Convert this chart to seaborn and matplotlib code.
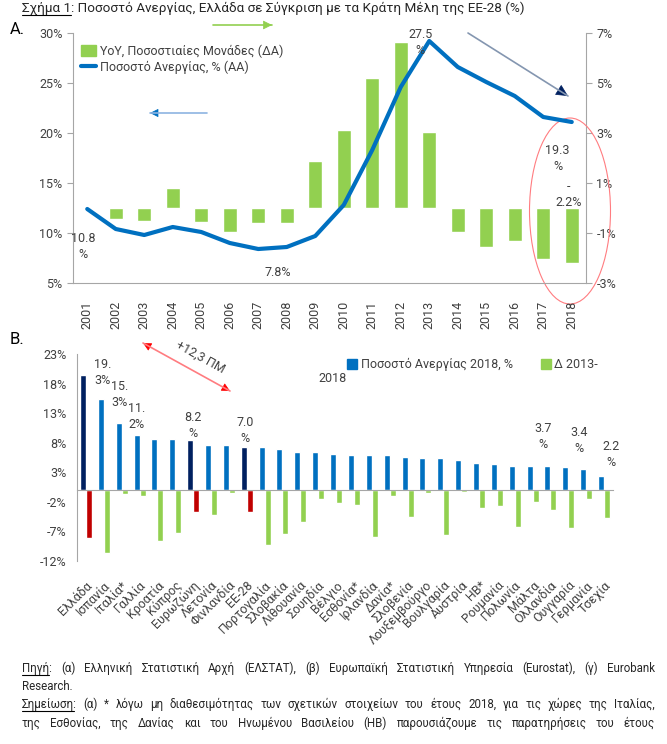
import numpy as np
import pandas as pd
import matplotlib
matplotlib.use("Agg")
import matplotlib.pyplot as plt
import seaborn as sns
from matplotlib.patches import Ellipse, FancyArrowPatch, Patch
from matplotlib.lines import Line2D

# ---- DATA: top chart (Greece)
years = [str(y) for y in range(2001, 2019)]
unemp_gr = [12.4, 10.4, 9.8, 10.6, 10.1, 9.0, 8.4, 8.6, 9.7, 12.8, 18.3,
            24.6, 29.2, 26.6, 25.1, 23.7, 21.6, 21.1]
yoy_years = years[1:]
yoy_pp = [-0.42, -0.52, 0.81, -0.57, -0.97, -0.59, -0.61, 1.88, 3.12, 5.19,
          6.63, 3.05, -0.95, -1.57, -1.32, -2.04, -2.19]

# ---- DATA: bottom chart (EU-28)
countries = ['Ελλάδα', 'Ισπανία', 'Ιταλία*', 'Γαλλία', 'Κροατία', 'Κύπρος',
             'Ευρωζώνη', 'Λετονία', 'Φινλανδία', 'ΕΕ-28', 'Πορτογαλία',
             'Σλοβακία', 'Λιθουανία', 'Σουηδία', 'Βέλγιο', 'Εσθονία*',
             'Ιρλανδία', 'Δανία*', 'Σλοβενία', 'Λουξεμβούργο', 'Βουλγαρία',
             'Αυστρία', 'ΗΒ*', 'Ρουμανία', 'Πολωνία', 'Μάλτα', 'Ολλανδία',
             'Ουγγαρία', 'Γερμανία', 'Τσεχία']
rate_2018 = [19.5, 15.5, 11.4, 9.3, 8.7, 8.7, 8.5, 7.6, 7.6, 7.2, 7.2, 6.9,
             6.5, 6.5, 6.1, 6.0, 6.0, 5.9, 5.6, 5.5, 5.5, 5.1, 4.6, 4.4, 4.1,
             4.0, 4.1, 3.9, 3.6, 2.4]
delta_13_18 = [-8.1, -10.7, -0.7, -1.0, -8.7, -7.3, -3.7, -4.3, -0.6, -3.8,
               -9.3, -7.4, -5.4, -1.6, -2.3, -2.6, -7.9, -1.1, -4.6, -0.5,
               -7.7, -0.3, -3.0, -2.7, -6.3, -2.1, -3.4, -6.4, -1.6, -4.7]
highlight = ['Ελλάδα', 'Ευρωζώνη', 'ΕΕ-28']

W, H = 667, 744
GREEN = '#92D050'
BLUE = '#0070C0'
NAVY = '#002060'
RED = '#C00000'
AXC = '#A6A6A6'
TXT = '#404040'

sns.set_style('white')
plt.rcParams['font.family'] = ['Roboto', 'DejaVu Sans']

fig = plt.figure(figsize=(W / 100, H / 100), dpi=100)


def px(x, y):
    # reference pixel (top-left origin) -> figure fraction
    return (x / W, 1 - y / H)


def box(x0, y0, x1, y1):
    return [x0 / W, 1 - y1 / H, (x1 - x0) / W, (y1 - y0) / H]


# ================= A. top chart =================
ax1 = fig.add_axes(box(73, 33, 586, 283))
ax2 = ax1.twinx()

df_yoy = pd.DataFrame({'year': yoy_years, 'pp': yoy_pp})
sns.barplot(data=df_yoy, x='year', y='pp', order=years, color=GREEN,
            width=0.5, saturation=1, ax=ax2)
sns.lineplot(x=np.arange(len(years)), y=unemp_gr, color=BLUE, lw=3, ax=ax1)

ax1.set_zorder(ax2.get_zorder() + 1)
ax1.patch.set_visible(False)

ax1.set_xlim(-0.5, len(years) - 0.5)
ax1.set_ylim(5, 30)
ax1.set_yticks(range(5, 31, 5))
ax1.set_yticklabels([f'{v}%' for v in range(5, 31, 5)])
ax2.set_ylim(-3, 7)
ax2.set_yticks(range(-3, 8, 2))
ax2.set_yticklabels([f'{v}%' for v in range(-3, 8, 2)])

ax1.set_xticks(range(len(years)))
ax1.set_xticklabels(years, rotation=90)
ax1.set_xticks(np.arange(-0.5, len(years), 1), minor=True)
ax1.tick_params(axis='x', which='major', length=0, pad=13, labelsize=9,
                labelcolor=TXT)
ax1.tick_params(axis='x', which='minor', length=6, color=AXC, direction='out')
ax1.tick_params(axis='y', length=4, color=AXC, labelsize=9, labelcolor=TXT,
                direction='out')
ax2.tick_params(axis='y', length=4, color=AXC, labelsize=9, labelcolor=TXT,
                direction='out')
for a in (ax1, ax2):
    a.set_xlabel('')
    a.set_ylabel('')
    for s in a.spines.values():
        s.set_visible(False)
        s.set_color(AXC)
ax1.spines['left'].set_visible(True)
ax1.spines['bottom'].set_visible(True)
ax2.spines['right'].set_visible(True)

leg1 = ax1.legend(
    handles=[Patch(color=GREEN), Line2D([], [], color=BLUE, lw=3)],
    labels=['ΥοΥ, Ποσοστιαίες Μονάδες (ΔΑ)', 'Ποσοστό Ανεργίας, % (ΑΑ)'],
    loc='upper left', bbox_to_anchor=(0.0, 0.985), frameon=False,
    fontsize=9, handlelength=1.2, handleheight=0.9, handletextpad=0.4,
    labelspacing=0.25, borderaxespad=0.2)
for t in leg1.get_texts():
    t.set_color(TXT)

lab = dict(fontsize=9, color=TXT, ha='center', va='center', linespacing=1.3)
ax1.text(-0.15, 8.7, '10.8\n%', **lab)
ax1.text(6.67, 6.0, '7.8%', **lab)
ax1.text(11.68, 29.0, '27.5\n%', **lab)
ax1.text(16.5, 17.5, '19.3\n%', **lab)
ax1.text(16.9, 13.8, '-\n2.2%', **lab)


def arrow(p0, p1, line_c, head_c, ms=12, lw=1.2, both=False):
    fig.add_artist(Line2D([p0[0] / W, p1[0] / W], [1 - p0[1] / H, 1 - p1[1] / H],
                          color=line_c, lw=lw, transform=fig.transFigure))
    ends = [(p0, p1)] + ([(p1, p0)] if both else [])
    for a, b in ends:
        d = np.array(b, float) - np.array(a, float)
        d = d / np.hypot(*d)
        tail = np.array(b) - d * 6
        fig.add_artist(FancyArrowPatch(px(*tail), px(*b), transform=fig.transFigure,
                                       arrowstyle='-|>', mutation_scale=ms,
                                       color=head_c, lw=0.5,
                                       shrinkA=0, shrinkB=0))


arrow((213, 25), (272, 25), GREEN, GREEN, ms=14)
arrow((207, 113), (150, 113), '#8DB4E2', BLUE, ms=13)
arrow((468, 33), (568, 96), '#8496B0', NAVY, ms=19)
fig.add_artist(Ellipse(px(570, 211), 81 / W, 186 / H, transform=fig.transFigure,
                       fill=False, edgecolor='#FF7C80', lw=0.8))

# ================= B. bottom chart =================
ax3 = fig.add_axes(box(77, 354.3, 613, 560.7))
df_b = pd.DataFrame({
    'country': countries * 2,
    'series': ['rate'] * len(countries) + ['delta'] * len(countries),
    'value': rate_2018 + delta_13_18,
})
sns.barplot(data=df_b, x='country', y='value', hue='series',
            hue_order=['rate', 'delta'], palette=[BLUE, GREEN], width=0.67,
            saturation=1, legend=False, ax=ax3)
for i, c in enumerate(countries):
    if c in highlight:
        ax3.containers[0][i].set_facecolor(NAVY)
        ax3.containers[1][i].set_facecolor(RED)

ax3.set_xlim(-0.5, len(countries) - 0.5)
ax3.set_ylim(-12, 23)
ax3.set_yticks(range(-12, 24, 5))
ax3.set_yticklabels([f'{v}%' for v in range(-12, 24, 5)])
ax3.set_xlabel('')
ax3.set_ylabel('')
for s in ax3.spines.values():
    s.set_visible(False)
    s.set_color(AXC)
ax3.spines['left'].set_visible(True)
ax3.spines['bottom'].set_visible(True)
ax3.spines['bottom'].set_position(('data', 0))
ax3.set_xticks(range(len(countries)))
ax3.set_xticklabels(countries, rotation=45, ha='right', va='top',
                    rotation_mode='anchor')
ax3.set_xticks(np.arange(-0.5, len(countries), 1), minor=True)
ax3.tick_params(axis='x', which='major', length=0, pad=64, labelsize=9,
                labelcolor=TXT)
ax3.tick_params(axis='x', which='minor', length=4, color=AXC, direction='out')
ax3.tick_params(axis='y', length=4, color=AXC, labelsize=9, labelcolor=TXT,
                direction='out')

leg2 = fig.legend(handles=[Patch(color=BLUE), Patch(color=GREEN)],
                  labels=['Ποσοστό Ανεργίας 2018, %', 'Δ 2013-'],
                  ncol=2, loc='upper left', bbox_to_anchor=px(336, 347),
                  frameon=False, fontsize=9, handlelength=0.8,
                  handleheight=0.8, handletextpad=0.3, columnspacing=2.2)
for t in leg2.get_texts():
    t.set_color(TXT)
fig.text(*px(333, 379), '2018', fontsize=9, color=TXT, ha='center', va='center')

ax3.text(0.95, 19.9, '19.\n3%', **lab)
ax3.text(1.9, 16.2, '15.\n3%', **lab)
ax3.text(2.85, 12.5, '11.\n2%', **lab)
ax3.text(6.0, 11.0, '8.2\n%', **lab)
ax3.text(8.9, 10.0, '7.0\n%', **lab)
ax3.text(25.6, 9.1, '3.7\n%', **lab)
ax3.text(27.6, 8.3, '3.4\n%', **lab)
ax3.text(29.4, 6.0, '2.2\n%', **lab)

arrow((143, 343), (230, 391), '#FF7C80', '#FF0000', ms=13, both=True)
fig.text(*px(200, 357), '+12,3 ΠΜ', fontsize=9, color=TXT, rotation=-29,
         ha='center', va='center', rotation_mode='anchor')

# ================= texts =================
fig.text(*px(10, 30), 'A.', fontsize=12, color='black', va='center')
fig.text(*px(10, 340), 'B.', fontsize=12, color='black', va='center')

renderer = fig.canvas.get_renderer()


def underline(t, color='black'):
    bb = t.get_window_extent(renderer)
    x0, x1 = bb.x0, bb.x1
    y = t.get_position()[1] * H - 2.5
    fig.add_artist(Line2D([x0 / W, x1 / W], [y / H, y / H], color=color, lw=0.8,
                          transform=fig.transFigure))
    return bb.width


tt = fig.text(22 / W, 1 - 12 / H, 'Σχήμα 1', fontsize=9.7, va='baseline')
wt = underline(tt)
fig.text((22 + wt) / W, 1 - 12 / H,
         ': Ποσοστό Ανεργίας, Ελλάδα σε Σύγκριση με τα Κράτη Μέλη της ΕΕ-28 (%)',
         fontsize=9.7, va='baseline')

FS = 8.3


def text_line(s, yb, x0=22, x1=655, justify=True, ul=None):
    words = s.split()
    ts = [fig.text(0, 1 - yb / H, w, fontsize=FS, va='baseline') for w in words]
    ws = [t.get_window_extent(renderer).width for t in ts]
    if justify and len(words) > 1:
        gap = (x1 - x0 - sum(ws)) / (len(words) - 1)
    else:
        sp = fig.text(0, 0, 'a a', fontsize=FS)
        sa = fig.text(0, 0, 'aa', fontsize=FS)
        gap = sp.get_window_extent(renderer).width - sa.get_window_extent(renderer).width
        sp.remove()
        sa.remove()
    x = x0
    for t, w in zip(ts, ws):
        t.set_x(x / W)
        x += w + gap
    if ul:
        u = fig.text(x0 / W, 1 - yb / H, ul, fontsize=FS, va='baseline', alpha=0)
        underline(u)


text_line('Πηγή: (α) Ελληνική Στατιστική Αρχή (ΕΛΣΤΑΤ), (β) Ευρωπαϊκή Στατιστική '
          'Υπηρεσία (Eurostat), (γ) Eurobank', 672, ul='Πηγή')
text_line('Research.', 690, justify=False)
text_line('Σημείωση: (α) * λόγω μη διαθεσιμότητας των σχετικών στοιχείων του έτους '
          '2018, για τις χώρες της Ιταλίας,', 708, ul='Σημείωση')
text_line('της Εσθονίας, της Δανίας και του Ηνωμένου Βασιλείου (ΗΒ) παρουσιάζουμε '
          'τις παρατηρήσεις του έτους', 727)

fig.savefig('out.png', dpi=100)
